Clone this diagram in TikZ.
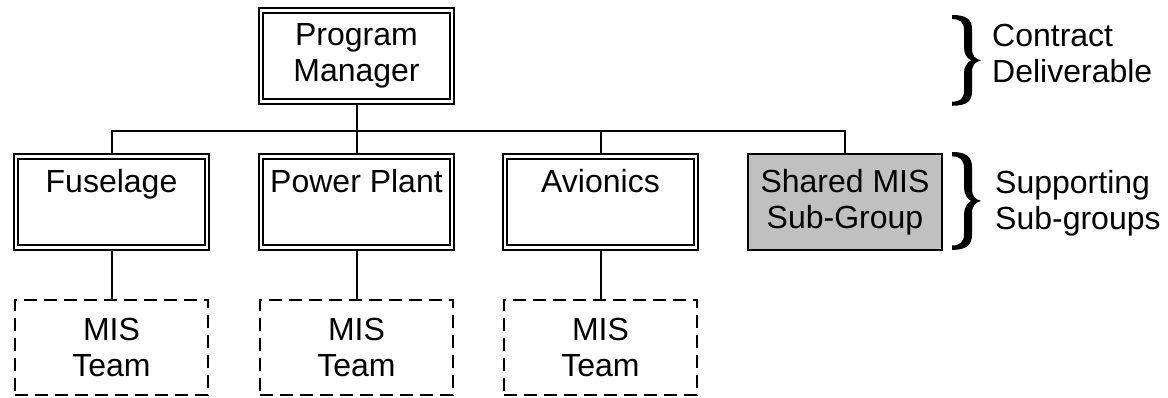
\documentclass[tikz,border=0pt]{standalone}
\usepackage{fontspec}
\setmainfont{Liberation Sans}
\definecolor{boxgray}{HTML}{C0C0C0}
\begin{document}
\begin{tikzpicture}[x=1pt,y=-1pt]
\tikzset{
  every node/.style={font=\fontsize{32}{36}\selectfont, align=center, inner sep=0pt},
  unitbox/.style={draw, line width=2pt, double, double distance=2.8pt,
    minimum width=191pt, minimum height=91.5pt},
  sharedbox/.style={draw, line width=2pt, fill=boxgray,
    minimum width=194pt, minimum height=96pt},
  teambox/.style={draw, line width=1.8pt, dash pattern=on 13pt off 7pt,
    minimum width=193pt, minimum height=95.5pt},
  link/.style={line width=2pt},
  note/.style={anchor=west, align=left},
  curlybrace/.pic={
    \fill (0,0) .. controls (14,0) and (20,4) .. (20,14) -- (20,33)
      .. controls (20,40) and (23,43) .. (29,44.5)
      .. controls (23,46) and (20,49) .. (20,56) -- (20,75)
      .. controls (20,85) and (14,89) .. (0,89) -- (0,85)
      .. controls (8,85) and (12,82) .. (12,74) -- (12,57)
      .. controls (12,51) and (15,46.5) .. (19,44.5)
      .. controls (15,42.5) and (12,38) .. (12,32) -- (12,15)
      .. controls (12,7) and (8,4) .. (0,4) -- cycle;
  }
}
\useasboundingbox (0,0) rectangle (1168,398);

% level of the horizontal bus
\coordinate (bus) at (0,131);

% top of the chart
\node[unitbox] (pm) at (356.5,56) {Program\\Manager};

% sub-groups
\node[unitbox] (fus) at (111.5,202) {Fuselage\\[6pt]\mbox{}};
\node[unitbox] (pp) at (356.5,202) {Power Plant\\[6pt]\mbox{}};
\node[unitbox] (av) at (600.5,202) {Avionics\\[6pt]\mbox{}};
\node[sharedbox] (sh) at (845,202) {Shared MIS\\Sub-Group};

% MIS teams
\node[teambox] (tfus) at (111.5,347.5) {MIS\\Team};
\node[teambox] (tpp) at (356.5,347.5) {MIS\\Team};
\node[teambox] (tav) at (600.5,347.5) {MIS\\Team};

% connectors
\draw[link] (pm.south) -- (pm.south |- bus);
\draw[link] (fus.north) -- (fus.north |- bus) -| (sh.north);
\draw[link] (pp.north) -- (pp.north |- bus);
\draw[link] (av.north) -- (av.north |- bus);
\draw[link] (fus.south) -- (tfus.north);
\draw[link] (pp.south) -- (tpp.north);
\draw[link] (av.south) -- (tav.north);

% braces with their notes
\pic (brA) [yscale=1.02] at (952,15) {curlybrace};
\pic (brB) [yscale=1.1] at (952,152) {curlybrace};
\node[note] (contract) at (992,53.5) {Contract\\Deliverable};
\node[note] (support) at (995,202.8) {Supporting\\Sub-groups};
\end{tikzpicture}
\end{document}
